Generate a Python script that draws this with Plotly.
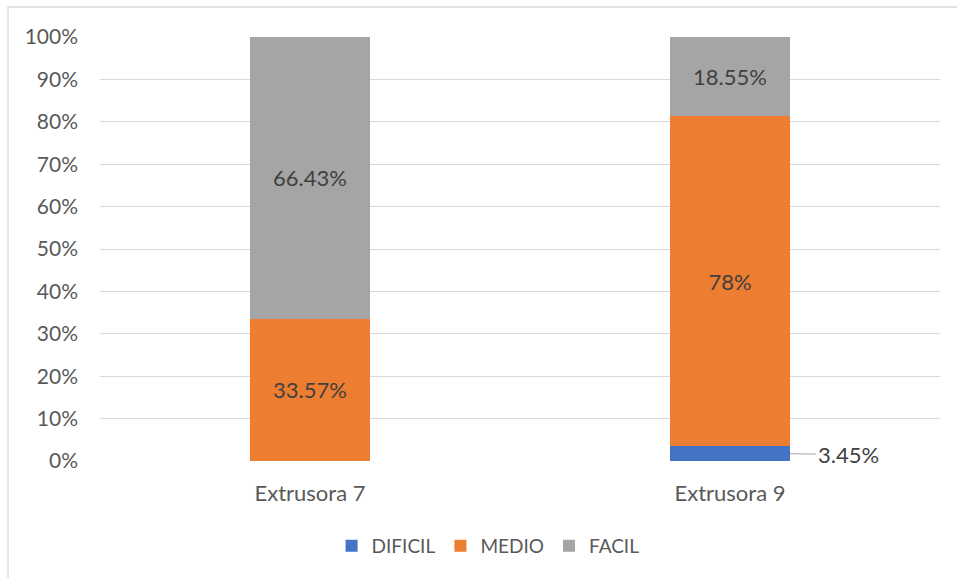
import plotly.graph_objects as go

categories = ["Extrusora 7", "Extrusora 9"]
series_names = ["DIFICIL", "MEDIO", "FACIL"]
dificil = [0, 3.45]
medio = [33.57, 78]
facil = [66.43, 18.55]
colors = ["#4472C4", "#ED7D31", "#A5A5A5"]
y_ticks = list(range(0, 101, 10))

FONT = "Lato, Calibri, Carlito, sans-serif"
BAR_GAP = 0.714


def pct(v):
    return f"{v:g}%"


fig = go.Figure()
for name, vals, col in zip(series_names, [dificil, medio, facil], colors):
    # Small segments get an outside callout instead of an inside label
    labels = [pct(v) if v >= 10 else "" for v in vals]
    fig.add_trace(go.Bar(
        name=name, x=categories, y=vals, marker_color=col,
        marker_line_width=0,
        text=labels, textposition="inside", insidetextanchor="middle",
        textfont=dict(family=FONT, size=22, color="#404040"),
        constraintext="none", hoverinfo="skip",
    ))

# Callout for the thin DIFICIL segment
half_w = (1 - BAR_GAP) / 2
for i, v in enumerate(dificil):
    if 0 < v < 10:
        fig.add_annotation(
            x=i + half_w, y=v / 2, xref="x", yref="y",
            text=pct(v), showarrow=True, arrowhead=0, arrowwidth=1,
            arrowcolor="#A5A5A5", ax=58, ay=1, standoff=0,
            font=dict(family=FONT, size=22, color="#404040"),
        )

# Chart-area border
fig.add_shape(type="rect", xref="paper", yref="paper",
              x0=-0.1095, x1=1.03, y0=-0.3, y1=1.0708,
              line=dict(color="#D9D9D9", width=1.3), layer="below")

fig.update_layout(
    barmode="stack", bargap=BAR_GAP,
    width=957, height=578,
    margin=dict(l=100, r=17, t=37, b=117),
    paper_bgcolor="white", plot_bgcolor="white",
    font=dict(family=FONT, size=22, color="#595959"),
    showlegend=True,
    legend=dict(orientation="h", x=0.462, xanchor="center", y=-0.2,
                yanchor="middle", font=dict(size=19, color="#595959"),
                itemwidth=30, traceorder="normal"),
    xaxis=dict(showline=False, ticks="", ticklabelstandoff=17,
               tickfont=dict(size=22, color="#595959")),
    yaxis=dict(range=[0, 100], tickvals=y_ticks,
               ticktext=[f"{t}%" for t in y_ticks],
               showgrid=True, gridcolor="#D9D9D9", gridwidth=1,
               zeroline=False, showline=False, ticks="",
               ticklabelstandoff=21,
               tickfont=dict(size=21, color="#595959")),
)

fig.write_html("out.html")
